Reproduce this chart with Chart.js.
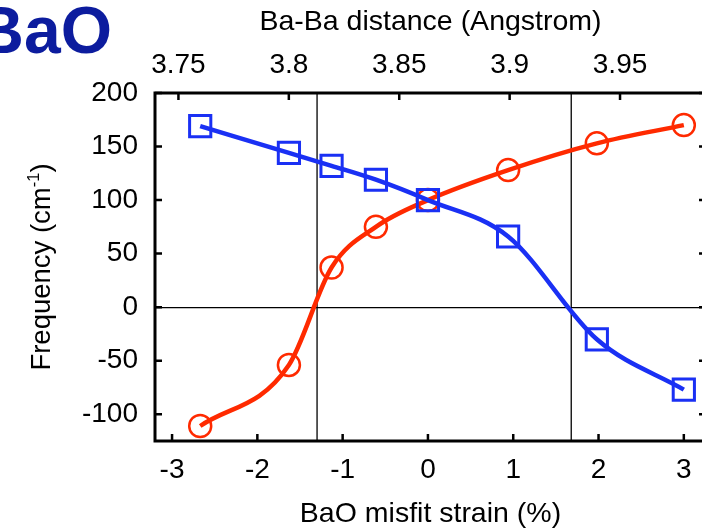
<!DOCTYPE html>
<html>
<head>
<meta charset="utf-8">
<script src="https://cdn.jsdelivr.net/npm/chart.js@4.4.1/dist/chart.umd.min.js"></script>
<style>
    html, body { margin: 0; padding: 0; background: #fff; overflow: hidden; }
    #wrap { position: relative; width: 702px; height: 531px; overflow: hidden; }
    canvas { display: block; }
</style>
</head>
<body>
<div id="wrap"><canvas id="chart" width="724" height="531"></canvas></div>
<script>
// strain (%) of each computed cell
const strain = [-2.67, -1.63, -1.13, -0.61, 0, 0.94, 1.98, 3.0];
// frequencies (cm^-1) of the two branches
const redBranch = [-111, -54, 37, 75, 100, 128, 153, 170];
const blueBranch = [169, 144, 132, 119, 100, 66, -30, -77];
// strains where the branches go through zero
const crossings = [-1.3, 1.68];

const strainTicks = [-3, -2, -1, 0, 1, 2, 3];
const freqTicks = [-100, -50, 0, 50, 100, 150, 200];
const distanceTicks = [3.75, 3.8, 3.85, 3.9, 3.95];
const d0 = 3.863; // unstrained Ba-Ba distance

const FONT = "'Liberation Sans', Arial, Helvetica, sans-serif";
const RED = "#ff2a00";
const BLUE = "#1a30f4";
const xMin = -3.2, xMax = 3.26, yMin = -125, yMax = 200;

function toPoints(xs, ys) {
    return xs.map((x, i) => ({ x: x, y: ys[i] }));
}

function toStrain(d) {
    return (d / d0 - 1) * 100;
}

// keep the plot box fixed, no extra room for edge labels
function fixHeight(h) {
    return s => {
        s.height = h;
        s.paddingLeft = 0;
        s.paddingRight = 0;
    };
}

// frame, inward tick marks, y title and the big label
const framePlugin = {
    id: "frame",
    afterDatasetsDraw(chart) {
        const { ctx, chartArea: a, scales } = chart;
        const len = 7;
        ctx.save();
        ctx.strokeStyle = "#000";
        ctx.lineWidth = 2.5;
        ctx.beginPath();
        scales.x.ticks.forEach(t => {
            const px = scales.x.getPixelForValue(t.value);
            ctx.moveTo(px, a.bottom);
            ctx.lineTo(px, a.bottom - len);
        });
        scales.xTop.ticks.forEach(t => {
            const px = scales.xTop.getPixelForValue(t.value);
            ctx.moveTo(px, a.top);
            ctx.lineTo(px, a.top + len);
        });
        scales.y.ticks.forEach(t => {
            const py = scales.y.getPixelForValue(t.value);
            ctx.moveTo(a.left, py);
            ctx.lineTo(a.left + len, py);
            ctx.moveTo(a.right, py);
            ctx.lineTo(a.right - len, py);
        });
        ctx.stroke();
        ctx.lineWidth = 3;
        ctx.strokeRect(a.left, a.top, a.right - a.left, a.bottom - a.top);
        ctx.restore();
    },
    afterDraw(chart) {
        const { ctx, chartArea: a } = chart;
        ctx.save();

        // y axis title with superscript
        const big = "27.5px " + FONT;
        const small = "16.5px " + FONT;
        const parts = [
            { text: "Frequency (cm", font: big, rise: 0 },
            { text: "-1", font: small, rise: 11 },
            { text: ")", font: big, rise: 0 }
        ];
        let total = 0;
        parts.forEach(p => {
            ctx.font = p.font;
            p.w = ctx.measureText(p.text).width;
            total += p.w;
        });
        ctx.translate(50, (a.top + a.bottom) / 2);
        ctx.rotate(-Math.PI / 2);
        ctx.fillStyle = "#000";
        ctx.textBaseline = "alphabetic";
        ctx.textAlign = "left";
        let pos = -total / 2;
        parts.forEach(p => {
            ctx.font = p.font;
            ctx.fillText(p.text, pos, -p.rise);
            pos += p.w;
        });
        ctx.setTransform(1, 0, 0, 1, 0, 0);

        ctx.font = "bold 66px " + FONT;
        ctx.fillStyle = "#0c1c9e";
        ctx.textAlign = "right";
        ctx.textBaseline = "alphabetic";
        ctx.fillText("BaO", 112, 53);
        ctx.restore();
    }
};

const datasets = [
    {
        data: toPoints(strain, blueBranch),
        borderColor: BLUE,
        borderWidth: 4.5,
        cubicInterpolationMode: "monotone",
        pointStyle: "rect",
        pointRadius: 15,
        pointBorderWidth: 3,
        pointBorderColor: BLUE,
        pointBackgroundColor: "rgba(0,0,0,0)",
        order: 0
    },
    {
        data: toPoints(strain, redBranch),
        borderColor: RED,
        borderWidth: 4.5,
        cubicInterpolationMode: "monotone",
        pointStyle: "circle",
        pointRadius: 11,
        pointBorderWidth: 2.5,
        pointBorderColor: RED,
        pointBackgroundColor: "rgba(0,0,0,0)",
        order: 1
    }
];

crossings.forEach(c => {
    datasets.push({
        data: [{ x: c, y: yMin }, { x: c, y: yMax }],
        borderColor: "#000",
        borderWidth: 1.3,
        pointRadius: 0,
        order: 5
    });
});

const tickFont = { family: FONT, size: 28 };
const titleFont = { family: FONT, size: 28.5 };

new Chart(document.getElementById("chart"), {
    type: "line",
    data: { datasets: datasets },
    options: {
        responsive: false,
        animation: false,
        events: [],
        layout: { padding: { left: 0, top: 0, right: 2, bottom: 0 } },
        plugins: {
            legend: { display: false },
            tooltip: { enabled: false }
        },
        scales: {
            x: {
                type: "linear",
                position: "bottom",
                min: xMin,
                max: xMax,
                afterBuildTicks: s => { s.ticks = strainTicks.map(v => ({ value: v })); },
                afterFit: fixHeight(90),
                grid: { display: false, drawTicks: false },
                border: { display: false },
                ticks: {
                    font: tickFont,
                    color: "#000",
                    padding: 12,
                    maxRotation: 0,
                    autoSkip: false,
                    callback: v => String(v)
                },
                title: {
                    display: true,
                    text: "BaO misfit strain (%)",
                    font: titleFont,
                    color: "#000",
                    padding: { top: 0, bottom: 0 }
                }
            },
            xTop: {
                type: "linear",
                position: "top",
                min: xMin,
                max: xMax,
                afterBuildTicks: s => { s.ticks = distanceTicks.map(d => ({ value: toStrain(d) })); },
                afterFit: fixHeight(93),
                grid: { display: false, drawTicks: false },
                border: { display: false },
                ticks: {
                    font: tickFont,
                    color: "#000",
                    padding: 11,
                    maxRotation: 0,
                    autoSkip: false,
                    callback: (v, i) => String(distanceTicks[i])
                },
                title: {
                    display: true,
                    text: "Ba-Ba distance (Angstrom)",
                    font: titleFont,
                    color: "#000",
                    padding: { top: 5, bottom: 0 }
                }
            },
            y: {
                type: "linear",
                position: "left",
                min: yMin,
                max: yMax,
                afterBuildTicks: s => { s.ticks = freqTicks.map(v => ({ value: v })); },
                afterFit: s => { s.width = 155; },
                grid: {
                    drawTicks: false,
                    lineWidth: 1.3,
                    color: c => (c.tick && c.tick.value === 0) ? "#000" : "rgba(0,0,0,0)"
                },
                border: { display: false },
                ticks: {
                    font: tickFont,
                    color: "#000",
                    padding: 17,
                    autoSkip: false,
                    callback: v => String(v)
                }
            }
        }
    },
    plugins: [framePlugin]
});
</script>
</body>
</html>
